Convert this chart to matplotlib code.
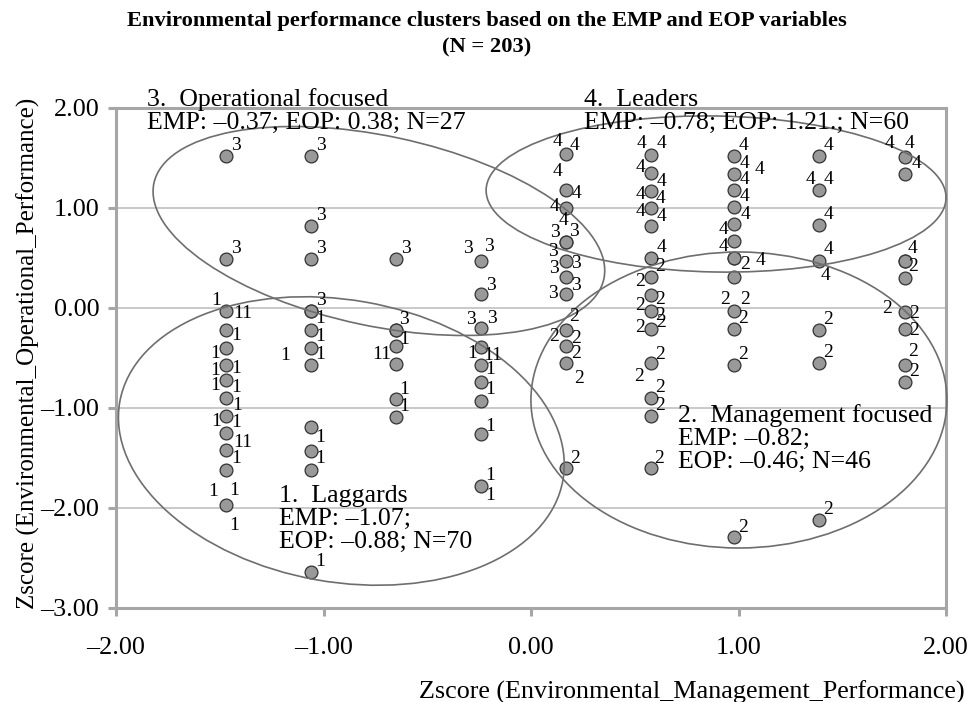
import matplotlib
matplotlib.use('Agg')
import matplotlib.pyplot as plt
from matplotlib.patches import Ellipse
from matplotlib.transforms import Affine2D

plt.rcParams['font.family'] = ['Liberation Serif', 'DejaVu Serif']

# ---------------- data ----------------
title_lines = ["Environmental performance clusters based on the EMP and EOP variables",
               "(N = 203)"]
x_label = "Zscore (Environmental_Management_Performance)"
y_label = "Zscore (Environmental_Operational_Performance)"
x_ticks = [-2, -1, 0, 1, 2]
y_ticks = [-3, -2, -1, 0, 1, 2]

emp = [
    -1.47, -1.47, -1.47, -1.47, -1.47, -1.47, -1.47, -1.47, -1.47, -1.47, -1.47, -1.47, -1.47,
    -1.06, -1.06, -1.06, -1.06, -1.06, -1.06, -1.06, -1.06, -1.06, -1.06, -1.06, -1.06,
    -0.65, -0.65, -0.65, -0.65, -0.65, -0.65, -0.65,
    -0.24, -0.24, -0.24, -0.24, -0.24, -0.24, -0.24, -0.24, -0.24,
    0.17, 0.17, 0.17, 0.17, 0.17, 0.17, 0.17, 0.17, 0.17, 0.17, 0.17, 0.17,
    0.58, 0.58, 0.58, 0.58, 0.58, 0.58, 0.58, 0.58, 0.58, 0.58, 0.58, 0.58, 0.58, 0.58,
    0.98, 0.98, 0.98, 0.98, 0.98, 0.98, 0.98, 0.98, 0.98, 0.98, 0.98, 0.98, 0.98,
    1.39, 1.39, 1.39, 1.39, 1.39, 1.39, 1.39,
    1.80, 1.80, 1.80, 1.80, 1.80, 1.80, 1.80, 1.80, 1.80,
]
eop = [
    1.52, 0.49, -0.03, -0.22, -0.40, -0.57, -0.72, -0.90, -1.08, -1.25, -1.42, -1.62, -1.97,
    1.52, 0.82, 0.49, -0.03, -0.03, -0.22, -0.40, -0.57, -1.19, -1.43, -1.62, -2.64,
    0.49, -0.22, -0.22, -0.38, -0.56, -0.91, -1.09,
    0.47, 0.14, -0.20, -0.39, -0.57, -0.74, -0.93, -1.26, -1.78,
    1.54, 1.18, 1.00, 0.66, 0.66, 0.47, 0.31, 0.14, -0.22, -0.38, -0.55, -1.60,
    1.53, 1.35, 1.17, 1.00, 0.82, 0.50, 0.31, 0.13, -0.03, -0.21, -0.55, -0.90, -1.08, -1.60,
    1.52, 1.34, 1.18, 1.01, 0.84, 0.67, 0.50, 0.50, 0.31, -0.03, -0.21, -0.57, -2.29,
    1.52, 1.18, 0.83, 0.47, -0.22, -0.55, -2.12,
    1.51, 1.34, 0.47, 0.47, 0.30, -0.04, -0.21, -0.57, -0.74,
]
cluster = [
    3, 3, 1, 1, 1, 1, 1, 1, 1, 1, 1, 1, 1,
    3, 3, 3, 3, 1, 1, 1, 1, 1, 1, 1, 1,
    3, 3, 1, 1, 1, 1, 1,
    3, 3, 3, 1, 1, 1, 1, 1, 1,
    4, 4, 4, 4, 3, 3, 3, 3, 2, 2, 2, 2,
    4, 4, 4, 4, 4, 4, 2, 2, 2, 2, 2, 2, 2, 2,
    4, 4, 4, 4, 4, 4, 4, 2, 2, 2, 2, 2, 2,
    4, 4, 4, 4, 2, 2, 2,
    4, 4, 4, 2, 2, 2, 2, 2, 2,
]

cluster_text = {
    1: ["1.  Laggards", "EMP: \u20131.07;", "EOP: \u20130.88; N=70"],
    2: ["2.  Management focused", "EMP: \u20130.82;", "EOP: \u20130.46; N=46"],
    3: ["3.  Operational focused", "EMP: \u20130.37; EOP: 0.38; N=27"],
    4: ["4.  Leaders", "EMP: \u20130.78; EOP: 1.21.; N=60"],
}

# ---------------- layout / style (not data) ----------------
# data-label offsets in pixels (dx, dy up[, repeat]) for each point
label_offsets = [
    [(10, 10)], [(10, 10)], [(-10, 10), (17, -3, 2)], [(10, -6)], [(-11, -6)],
    [(-11, -6), (10, -4)], [(-11, -6), (10, -8)], [(11, -8)], [(-10, -6), (10, -7)],
    [(17, -10, 2)], [(10, -9)], [], [(-13, 13), (8, 14), (8, -20)],
    [(10, 10)], [(10, 10)], [(10, 10)], [(10, 10)], [(9, -8)], [(9, -7)], [(9, -7), (-26, -8)],
    [], [(9, -11)], [(9, -8)], [], [(9, 10)],
    [(10, 10)], [(8, 10)], [(8, -10)], [(-14, -9, 2)], [], [(8, 9)], [(8, 10)],
    [(-13, 12), (8, 14)], [(10, 8)], [(-10, 8), (11, 9)], [(-9, -7), (12, -9, 2)],
    [(9, -5)], [(9, -8)], [], [(9, 7)], [(9, 10), (9, -10)],
    [(-9, 12), (8, 8)], [(-9, 19), (10, -3)], [(-12, 1)], [(-3, 21)], [(-11, 9), (8, 10)],
    [(-13, 9), (10, -3)], [(-12, 8)], [(-13, 0), (10, 8)], [(8, 13), (-12, -7)],
    [(10, 7), (10, -8)], [(13, -16)], [(9, 9)],
    [(-10, 12), (10, 11)], [(-11, 5), (10, -8)], [(-11, -4), (9, -8)], [(-11, -4), (10, -9)],
    [], [(10, 10)], [(9, 10), (-11, -5)], [(9, -5)], [(-11, 5), (9, -5)], [(-11, 1), (10, 6)],
    [(9, 8), (-12, -14)], [(9, 10)], [(9, 10)], [(8, 9)],
    [(9, 10)], [(10, 11), (25, 4)], [(10, 10)], [(10, 10)], [(11, 9), (-11, -6)], [(-11, -6)],
    [(26, -3)], [(11, -7)], [], [(-9, 11), (11, 11)], [(9, 10)], [(9, 10)], [(9, 10)],
    [(9, 10)], [(-9, 10), (9, 10)], [(9, 10)], [(9, 11), (6, -15)], [(9, 10)], [(9, 10)], [(9, 10)],
    [(-15, 13), (5, 13), (12, -6)], [], [(8, 12)], [(9, -6)], [], [(-17, 3), (10, -2)],
    [(10, -2)], [(9, 13), (10, -7)], [],
]

# ellipse geometry: centre (data), width/height in pixels, angle in degrees
ellipse_geom = {
    1: ((-0.914, -1.33), 450, 282, -10),
    2: ((1.002, -0.92), 416, 296, 0),
    3: ((-0.733, 0.77), 460, 190, -12),
    4: ((0.892, 1.14), 460, 156, -1),
}
# annotation text anchor (left x, baseline y of first line) in data units
text_anchor = {1: (-1.215, -1.94), 2: (0.708, -1.14), 3: (-1.85, 2.02), 4: (0.255, 2.02)}
line_step = 0.228

W, H, DPI = 973, 702, 100
fig = plt.figure(figsize=(W / DPI, H / DPI), dpi=DPI)
L, R, T, B = 116, 946, 108, 608
ax = fig.add_axes([L / W, 1 - B / H, (R - L) / W, (B - T) / H])
ax.set_xlim(-2, 2)
ax.set_ylim(-3, 2)
sx = (R - L) / 4.0
sy = (B - T) / 5.0

spine_c = '#a6a6a6'
for s in ax.spines.values():
    s.set_color(spine_c)
    s.set_linewidth(2.2)
ax.set_xticks(x_ticks)
ax.set_yticks(y_ticks)
ax.set_xticklabels([f"{v:.2f}".replace('-', '\u2013') for v in x_ticks])
ax.set_yticklabels([f"{v:.2f}".replace('-', '\u2013') for v in y_ticks])
ax.tick_params(axis='both', direction='out', length=6, width=2.2, color=spine_c,
               labelsize=18.8, colors='#000000')
ax.tick_params(axis='x', pad=15)
ax.tick_params(axis='y', pad=6)
for t in ax.get_xticklines() + ax.get_yticklines():
    t.set_color(spine_c)
ax.grid(axis='y', color='#c0c0c0', linewidth=1.2, zorder=0)
ax.set_axisbelow(True)

ax.scatter(emp, eop, s=85, facecolor='#999999', edgecolor='#333333', linewidth=0.9, zorder=3)

for xi, yi, ci, offs in zip(emp, eop, cluster, label_offsets):
    for off in offs:
        dx, dy = off[0], off[1]
        rep = off[2] if len(off) > 2 else 1
        ax.annotate(str(ci) * rep, (xi, yi), xytext=(dx * 0.72, dy * 0.72),
                    textcoords='offset points', ha='center', va='center',
                    fontsize=14, zorder=5)

for k, ((cx, cy), w, h, ang) in ellipse_geom.items():
    e = Ellipse((0, 0), w, h, angle=ang, fill=False, edgecolor='#6e6e6e', linewidth=1.2)
    e.set_transform(Affine2D().scale(1 / sx, 1 / sy).translate(cx, cy) + ax.transData)
    e.set_clip_on(False)
    e.set_zorder(4)
    ax.add_patch(e)

for k, lines in cluster_text.items():
    x0, y0 = text_anchor[k]
    for j, line in enumerate(lines):
        ax.text(x0, y0 - j * line_step, line, fontsize=18.6, ha='left', va='baseline', zorder=6)

fig.text(0.5, 1 - 21 / H, title_lines[0], ha='center', va='center', fontsize=16.2, fontweight='bold')
fig.text(0.5, 1 - 47 / H, title_lines[1], ha='center', va='center', fontsize=16.2, fontweight='bold')
fig.text(28 / W, 1 - 353 / H, y_label, rotation=90, ha='center', va='center', fontsize=18)
fig.text(965 / W, 1 - 692 / H, x_label, ha='right', va='center', fontsize=18.8)

fig.savefig('out.png', dpi=DPI)
